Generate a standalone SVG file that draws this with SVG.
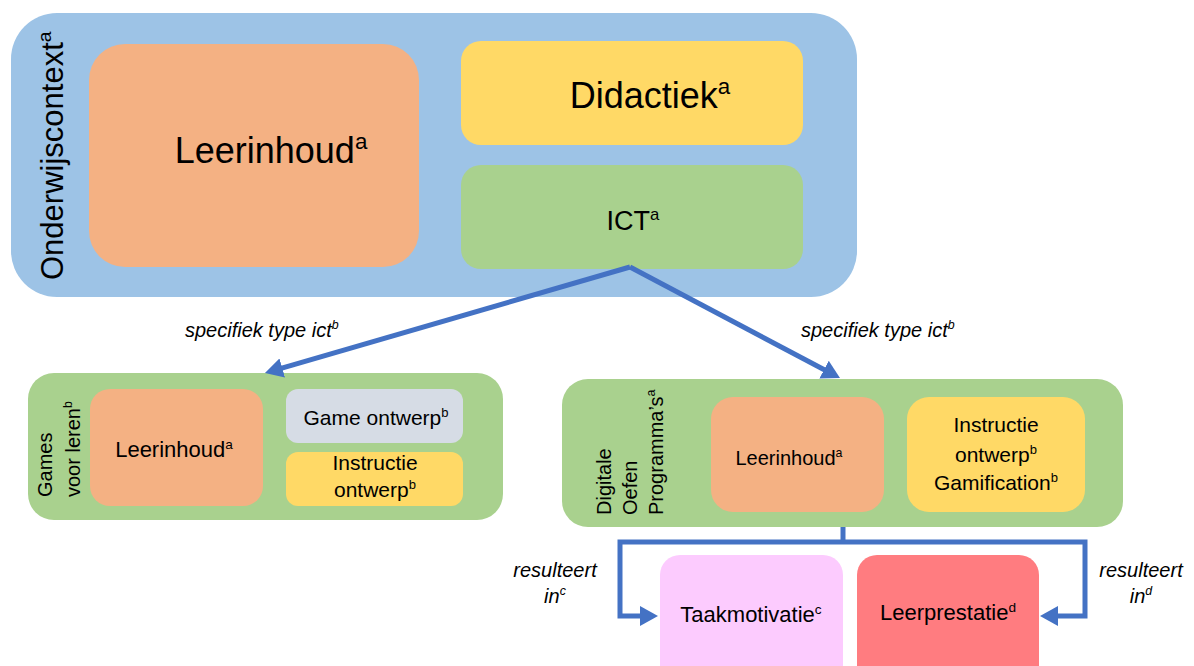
<svg xmlns="http://www.w3.org/2000/svg" width="1194" height="666" viewBox="0 0 1194 666">
<style>
text{font-family:"Liberation Sans",Arial,sans-serif;fill:#000}
.sup{font-size:62%}
.lbl{font-style:italic;font-size:20px}
.blue{fill:#9DC3E6}
.orange{fill:#F4B183}
.yellow{fill:#FFD966}
.green{fill:#A9D18E}
.grey{fill:#D6DCE5}
.pink{fill:#FCCBFE}
.red{fill:#FF7C80}
.conn{fill:none;stroke:#4472C4;stroke-width:5;stroke-linejoin:miter}
</style>
<defs>
<marker id="ah" markerUnits="userSpaceOnUse" markerWidth="20" markerHeight="22" refX="4" refY="10" orient="auto" viewBox="0 0 20 20">
<path d="M0,0 L18,10 L0,20 z" fill="#4472C4"/>
</marker>
</defs>

<g id="onderwijscontext">
<rect class="blue" x="11" y="13" width="846" height="284" rx="46"/>
<text transform="translate(63,280) rotate(-90)" font-size="31">Onderwijscontext<tspan class="sup" dy="-12">a</tspan></text>
</g>
<g id="leerinhoud-top">
<rect class="orange" x="89" y="44" width="330" height="223" rx="36"/>
<text x="271" y="163" font-size="36" text-anchor="middle">Leerinhoud<tspan class="sup" dy="-14">a</tspan></text>
</g>
<g id="didactiek">
<rect class="yellow" x="461" y="41" width="342" height="104" rx="20"/>
<text x="650" y="108" font-size="36" text-anchor="middle">Didactiek<tspan class="sup" dy="-14">a</tspan></text>
</g>
<g id="ict">
<rect class="green" x="461" y="165" width="342" height="104" rx="20"/>
<text x="633" y="230" font-size="27" text-anchor="middle">ICT<tspan class="sup" dy="-10">a</tspan></text>
</g>

<g id="games">
<rect class="green" x="28" y="373" width="475" height="147" rx="26"/>
<text transform="translate(52,497) rotate(-90)" font-size="20">Games</text>
<text transform="translate(80,497) rotate(-90)" font-size="20">voor leren<tspan class="sup" dy="-8">b</tspan></text>
</g>
<g id="games-leerinhoud">
<rect class="orange" x="90" y="389" width="173" height="117" rx="20"/>
<text x="174" y="457" font-size="22" text-anchor="middle">Leerinhoud<tspan class="sup" dy="-8">a</tspan></text>
</g>
<g id="game-ontwerp">
<rect class="grey" x="286" y="389" width="177" height="54" rx="12"/>
<text x="376" y="425" font-size="21" text-anchor="middle">Game ontwerp<tspan class="sup" dy="-8">b</tspan></text>
</g>
<g id="games-instructie">
<rect class="yellow" x="286" y="452" width="177" height="54" rx="12"/>
<text x="375" y="470" font-size="21" text-anchor="middle">Instructie</text>
<text x="375" y="497" font-size="21" text-anchor="middle">ontwerp<tspan class="sup" dy="-8">b</tspan></text>
</g>

<g id="digitale">
<rect class="green" x="562" y="379" width="561" height="148" rx="26"/>
<text transform="translate(611,515) rotate(-90)" font-size="20">Digitale</text>
<text transform="translate(637,515) rotate(-90)" font-size="20">Oefen</text>
<text transform="translate(663,515) rotate(-90)" font-size="20">Programma’s<tspan class="sup" dy="-8">a</tspan></text>
</g>
<g id="digitale-leerinhoud">
<rect class="orange" x="711" y="397" width="173" height="115" rx="22"/>
<text x="789" y="465" font-size="20" text-anchor="middle">Leerinhoud<tspan class="sup" dy="-8">a</tspan></text>
</g>
<g id="digitale-instructie">
<rect class="yellow" x="907" y="397" width="178" height="115" rx="22"/>
<text x="996" y="432" font-size="21" text-anchor="middle">Instructie</text>
<text x="996" y="462" font-size="21" text-anchor="middle">ontwerp<tspan class="sup" dy="-8">b</tspan></text>
<text x="996" y="490" font-size="21" text-anchor="middle">Gamification<tspan class="sup" dy="-8">b</tspan></text>
</g>

<g id="taakmotivatie">
<rect class="pink" x="660" y="555" width="183" height="140" rx="20"/>
<text x="751" y="622" font-size="22" text-anchor="middle">Taakmotivatie<tspan class="sup" dy="-8">c</tspan></text>
</g>
<g id="leerprestatie">
<rect class="red" x="857" y="555" width="182" height="140" rx="20"/>
<text x="948" y="620" font-size="22" text-anchor="middle">Leerprestatie<tspan class="sup" dy="-8">d</tspan></text>
</g>

<g id="connectors">
<path class="conn" d="M630,267 L278.4,369.1" marker-end="url(#ah)"/>
<path class="conn" d="M630,267 L827.6,371.5" marker-end="url(#ah)"/>
<path class="conn" d="M843,527 V542"/>
<path class="conn" d="M843,542 H620 V616 H644" marker-end="url(#ah)"/>
<path class="conn" d="M843,542 H1085 V616 H1054" marker-end="url(#ah)"/>
<text class="lbl" x="185" y="337">specifiek type ict<tspan class="sup" dy="-8">b</tspan></text>
<text class="lbl" x="801" y="337">specifiek type ict<tspan class="sup" dy="-8">b</tspan></text>
<text class="lbl" x="555" y="577" text-anchor="middle">resulteert</text>
<text class="lbl" x="555" y="603" text-anchor="middle">in<tspan class="sup" dy="-8">c</tspan></text>
<text class="lbl" x="1141" y="577" text-anchor="middle">resulteert</text>
<text class="lbl" x="1141" y="603" text-anchor="middle">in<tspan class="sup" dy="-8">d</tspan></text>
</g>
</svg>
